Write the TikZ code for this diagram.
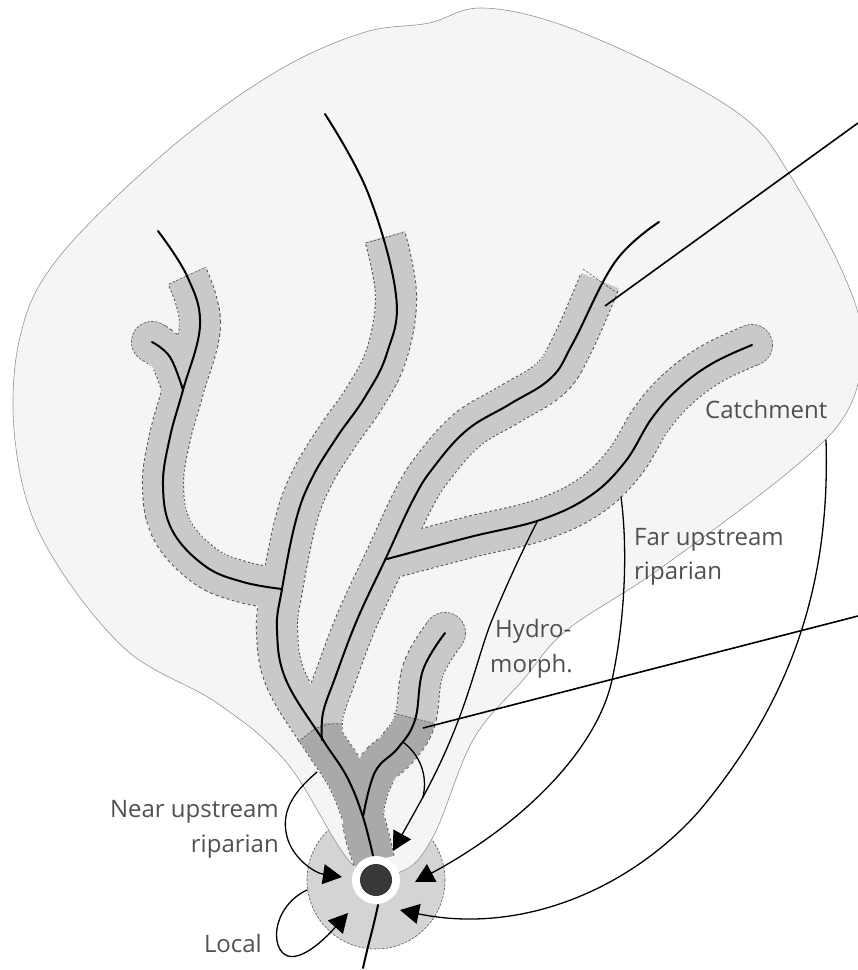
\documentclass[tikz,border=0pt]{standalone}
\usepackage{fontspec}
\setmainfont{Open Sans}
\usetikzlibrary{arrows.meta}
\definecolor{catch}{HTML}{F5F5F5}
\definecolor{rivL}{HTML}{C9C9C9}
\definecolor{rivD}{HTML}{A9A9A9}
\definecolor{disc}{HTML}{D4D4D4}
\definecolor{edgeC}{HTML}{555555}
\definecolor{txt}{HTML}{505050}
\tikzset{
  lbl/.style={text=txt,font=\fontsize{24}{24}\selectfont,inner sep=0pt},
  flow/.style={line width=1.3pt,black,line cap=round},
  flowa/.style={flow,-{Triangle[length=19pt,width=20pt]}},
  stream/.style={line width=2pt,black,line cap=round,line join=round},
  leader/.style={line width=1.6pt,black},
  cut/.style={line width=.6pt,draw=edgeC,dash pattern=on 2.5pt off 1.5pt},
}
\def\buffers{
 plot[smooth,tension=.65] coordinates {(187,276)(200,325)(183,390)(170,437)(163,485)(172,530)(205,566)(243,582)(282,589)}
 plot[smooth,tension=.65] coordinates {(152,342)(170,357)(183,390)}
 plot[smooth,tension=.65] coordinates {(385,237)(396,295)(387,353)(365,397)(337,437)(312,478)(296,520)(282,589)(277,630)(286,680)(323,740)(347,777)(363,817)(374,860)}
 plot[smooth,tension=.65] coordinates {(600,281)(573,343)(551,378)(510,404)(467,430)(433,468)(413,500)(385,560)(357,620)(335,678)(323,713)(322,740)}
 plot[smooth,tension=.65] coordinates {(752,345)(713,363)(680,387)(652,418)(625,462)(590,496)(540,520)(470,537)(387,559)}
 plot[smooth,tension=.65] coordinates {(445,633)(423,670)(415,720)(398,748)(375,772)(363,817)(374,860)}
}
\begin{document}
\begin{tikzpicture}[x=1pt,y=-1pt]
\useasboundingbox (0,0) rectangle (858,970);
% local disc
\coordinate (C) at (376,880);
\draw[cut,fill=disc] (C) circle (69);
% catchment
\draw[fill=catch,draw=gray!85,line width=.6pt] plot[smooth cycle,tension=.6] coordinates {(353,865)(287,763)(217,703)(123,647)(43,540)(15,440)(20,337)(59,257)(168,150)(274,73)(362,33)(429,23)(480,8)(556,23)(660,68)(747,120)(790,175)(843,273)(862,340)(848,410)(791,470)(658,570)(567,630)(523,680)(473,740)(433,837)(400,872)};
% stream buffers: dashed border made of three strokes
\draw[line width=42pt,edgeC,line join=round] \buffers;
\draw[line width=42.6pt,catch,dash pattern=on 2pt off 3pt,line join=round] \buffers;
\foreach \p in {(152,342),(752,345),(445,633)}
  \draw[cut,fill=rivL] \p circle (20.6);
\draw[line width=40pt,rivL,line join=round] \buffers;
% darker near part
\begin{scope}
\clip (281,755)--(298,742)--(313,730)--(326,723)--(342,724)--(393,713)--(433,723)--(470,733)--(470,900)--(281,900)--cycle;
\draw[line width=40pt,rivD,line join=round] \buffers;
\end{scope}
% cut marks
\draw[cut] (298,742)--(313,730);
\draw[cut] (313,730) .. controls (322,724) and (334,723) .. (342,724);
\draw[cut] (393,713)--(433,723);
\draw[cut] (169,284)--(206,267);
\draw[cut] (366,243)--(405,232);
\draw[cut] (583,269)--(617,293);
% streams
\draw[stream] plot[smooth,tension=.65] coordinates {(158,231)(187,276)(200,325)(183,390)(170,437)(163,485)(172,530)(205,566)(243,582)(282,589)};
\draw[stream] plot[smooth,tension=.65] coordinates {(152,342)(170,357)(183,390)};
\draw[stream] plot[smooth,tension=.65] coordinates {(325,114)(368,193)(396,295)(387,353)(365,397)(337,437)(312,478)(296,520)(282,589)(277,630)(286,680)(323,740)(347,777)(363,817)(374,860)};
\draw[stream] plot[smooth,tension=.65] coordinates {(659,222)(615,262)(573,343)(551,378)(510,404)(467,430)(433,468)(413,500)(385,560)(357,620)(335,678)(323,713)(322,740)};
\draw[stream] plot[smooth,tension=.65] coordinates {(752,345)(713,363)(680,387)(652,418)(625,462)(590,496)(540,520)(470,537)(387,559)};
\draw[stream] plot[smooth,tension=.65] coordinates {(445,633)(423,670)(415,720)(398,748)(375,772)(363,817)};
% outlet
\node[circle,fill=white,minimum size=48pt,inner sep=0pt] (ring) at (C) {};
\node[circle,fill=black!78,minimum size=32pt,inner sep=0pt] (out) at (C) {};
\coordinate (dn) at (363,968);
\draw[stream] (378,905) .. controls (374,925) and (368,945) .. (dn);
% labels
\node[lbl,anchor=base west] (lc) at (705,418) {Catchment};
\node[lbl,anchor=base west] (lf1) at (634,545) {Far upstream};
\node[lbl,anchor=base west] (lf2) at (634,579) {riparian};
\node[lbl,anchor=base west] (lh1) at (495,637) {Hydro-};
\node[lbl,anchor=base west] (lh2) at (490,672) {morph.};
\node[lbl,anchor=base east] (ln1) at (279,817) {Near upstream};
\node[lbl,anchor=base east] (ln2) at (279,852) {riparian};
\node[lbl,anchor=base east] (ll) at (262,952) {Local};
% flows
\draw[flowa] (317,772) .. controls (290,795) and (280,815) .. (288,840) .. controls (295,860) and (315,873) .. (342,877);
\draw[flow] (537,522) .. controls (520,555) and (500,600) .. (490,625) .. controls (475,665) and (465,720) .. (423,797);
\draw[flowa] (423,797) -- (393,851);
\draw[flow] (403,742) .. controls (420,755) and (428,775) .. (423,797);
\draw[flowa] (621,497) .. controls (628,550) and (625,620) .. (612,680) .. controls (598,745) and (530,820) .. (415,882);
\draw[flowa] (826,440) .. controls (830,570) and (800,690) .. (700,810) .. controls (630,890) and (520,935) .. (400,910);
\draw[flowa] (307,890) .. controls (285,900) and (272,925) .. (278,945) .. controls (287,970) and (315,950) .. (348,913);
% leaders
\coordinate (t1) at (858,123);
\coordinate (t2) at (858,616);
\draw[leader] (t1) -- (605,306);
\draw[leader] (t2) -- (423,728);
\end{tikzpicture}
\end{document}
